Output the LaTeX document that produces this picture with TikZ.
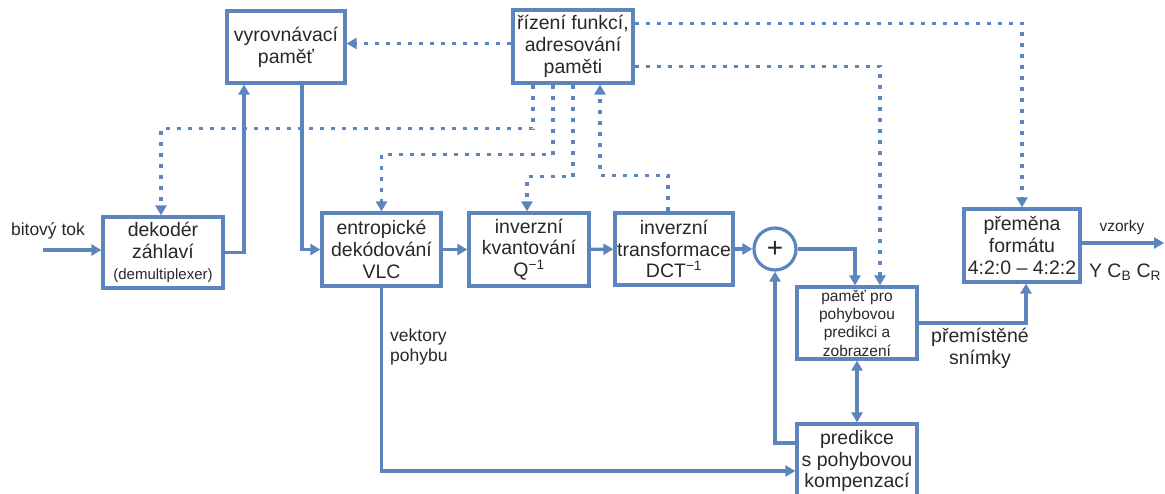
\documentclass[tikz,border=0pt]{standalone}
\usepackage{fontspec}
\setmainfont{Liberation Sans}
\usetikzlibrary{arrows.meta,calc}
\definecolor{bl}{RGB}{92,133,190}
\definecolor{tx}{RGB}{40,40,40}
\begin{document}
\begin{tikzpicture}[x=1pt,y=-1pt,
  box/.style={draw=bl,line width=3.2pt,rectangle,inner sep=0pt,align=center,text=tx,
    font=\fontsize{19.5}{21.7}\selectfont},
  small/.style={font=\fontsize{15.5}{18.3}\selectfont},
  lbl/.style={text=tx,inner sep=0pt,font=\fontsize{19.5}{21.7}\selectfont},
  flow/.style={draw=bl,line width=3.2pt,-{Triangle[length=10pt,width=11pt]}},
  both/.style={draw=bl,line width=3.2pt,{Triangle[length=10pt,width=11pt]}-{Triangle[length=10pt,width=11pt]}},
  ctl/.style={flow,dash pattern=on 4pt off 7pt}]
\useasboundingbox (0,0) rectangle (1165,494);
% boxes
\node[box,minimum width=118pt,minimum height=72pt] (vyr) at (286,47) {vyrovnávací\\paměť};
\node[box,minimum width=120pt,minimum height=73pt] (riz) at (573,46.5) {řízení funkcí,\\adresování\\paměti};
\node[box,minimum width=120pt,minimum height=71pt] (dek) at (163,252.5) {dekodér\\záhlaví\\{\fontsize{15}{18}\selectfont (demultiplexer)}};
\node[box,minimum width=119pt,minimum height=73pt] (ent) at (381.5,249.5) {entropické\\dekódování\\VLC};
\node[box,minimum width=120pt,minimum height=73pt] (kv) at (529,249.5) {inverzní\\kvantování\\Q\textsuperscript{−1}};
\node[box,minimum width=118pt,minimum height=72pt] (tr) at (674,249) {inverzní\\transformace\\DCT\textsuperscript{−1}};
\node[draw=bl,line width=3.2pt,circle,minimum size=42pt,inner sep=0pt,text=tx,
  font=\fontsize{28}{28}\selectfont] (plus) at (775,249) {+};
\node[box,small,minimum width=120pt,minimum height=72pt] (pam) at (857,323) {paměť pro\\pohybovou\\predikci a\\zobrazení};
\node[box,minimum width=120pt,minimum height=74pt] (pred) at (857,461) {predikce\\s pohybovou\\kompenzací};
\node[box,minimum width=116pt,minimum height=73pt] (pre) at (1022,245.5) {přeměna\\formátu\\4:2:0 – 4:2:2};
% labels
\node[lbl,font=\fontsize{17.5}{20}\selectfont] (bit) at (48,231) {bitový tok};
\node[lbl,align=left,anchor=west,font=\fontsize{17.5}{20}\selectfont] (vek) at (390,347) {vektory\\pohybu};
\node[lbl,align=center] (prem) at (980,348) {přemístěné\\snímky};
\node[lbl,font=\fontsize{15.5}{18}\selectfont] (vz) at (1122,227) {vzorky};
\node[lbl] (ycc) at (1125,272) {Y C\textsubscript{B} C\textsubscript{R}};
\coordinate (in) at (43,250);
\coordinate (out) at (1164,243);
% solid flows
\draw[flow] (in) -- (in -| dek.west);
\draw[flow] (dek.east) -| ([xshift=-42pt]vyr.south);
\draw[flow] ([xshift=16pt]vyr.south) |- (ent.west);
\draw[flow] (ent) -- (kv);
\draw[flow] (kv) -- (tr);
\draw[flow] (tr) -- (plus);
\draw[flow] (plus.east) -| ([xshift=-2pt]pam.north);
\draw[flow] (pam.east) -| ([xshift=4pt]pre.south);
\draw[flow] (pre.east |- out) -- (out);
\draw[both] (pam.south) -- (pred.north);
\draw[flow] ([yshift=18pt]pred.west) -| (plus.south);
\draw[flow] (ent.south) |- ([yshift=-10pt]pred.west);
% control (dotted)
\draw[ctl] ([yshift=3pt]riz.west) -- ([yshift=3pt]riz.west -| vyr.east);
\draw[ctl] ([xshift=-40pt]riz.south) -- ++(0,44) -| ([xshift=-2pt]dek.north);
\draw[ctl] ([xshift=-20pt]riz.south) -- ++(0,70) -| (ent.north);
\draw[ctl] (riz.south) -- ++(0,92) -| ([xshift=-2pt]kv.north);
\draw[ctl] ([xshift=-6pt]tr.north) -- ++(0,-36) -| ([xshift=27pt]riz.south);
\draw[ctl] ([yshift=23pt]riz.east) -| (pre.north);
\draw[ctl] ([yshift=-20pt]riz.east) -| ([xshift=23pt]pam.north);
\end{tikzpicture}
\end{document}
